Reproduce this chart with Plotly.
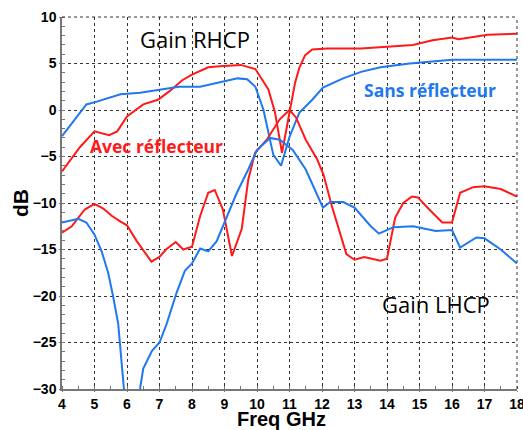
import plotly.graph_objects as go

# RHCP gain, with reflector (red)
rhcp_avec_f = [4.0, 4.55, 5.0, 5.45, 5.7, 6.0, 6.5, 6.95, 7.3, 7.7, 8.0, 8.5, 8.85, 9.5, 9.95,
               10.35, 10.55, 10.77, 11.17, 11.3, 11.48, 11.7, 12.15, 13.2, 14.8, 15.4, 16.0, 16.2,
               17.1, 18.0]
rhcp_avec_db = [-6.6, -4.0, -2.3, -2.7, -2.3, -0.7, 0.6, 1.1, 2.0, 3.2, 3.8, 4.6, 4.7, 4.85, 4.4,
                2.2, -0.2, -4.6, 2.9, 4.5, 5.9, 6.5, 6.6, 6.6, 7.0, 7.5, 7.8, 7.6, 8.1, 8.2]

# RHCP gain, without reflector (blue)
rhcp_sans_f = [4.0, 4.45, 4.75, 5.07, 5.8, 6.4, 7.0, 7.6, 8.25, 8.75, 9.4, 9.7, 9.95, 10.2,
               10.35, 10.5, 10.74, 11.0, 11.3, 11.7, 12.03, 12.65, 13.2, 13.8, 14.7, 16.0, 18.0]
rhcp_sans_db = [-2.8, -0.7, 0.6, 0.9, 1.7, 1.85, 2.2, 2.5, 2.5, 2.9, 3.4, 3.3, 2.5, 0.0,
                -2.4, -4.8, -6.0, -2.9, -0.3, 1.1, 2.4, 3.4, 4.1, 4.6, 5.0, 5.4, 5.4]

# LHCP gain, with reflector (red)
lhcp_avec_f = [4.0, 4.3, 4.7, 5.0, 5.27, 5.54, 5.8, 6.0, 6.3, 6.75, 7.0, 7.2, 7.5, 7.73, 8.0,
               8.25, 8.5, 8.7, 8.95, 9.23, 9.53, 9.73, 9.94, 10.3, 10.7, 11.0, 11.2, 11.5, 11.85,
               12.05, 12.3, 12.5, 12.75, 13.0, 13.3, 13.8, 14.0, 14.25, 14.5, 14.77, 14.95, 15.3,
               15.7, 16.0, 16.25, 16.65, 17.0, 17.5, 18.0]
lhcp_avec_db = [-13.2, -12.5, -10.7, -10.1, -10.6, -11.4, -12.0, -12.4, -14.1, -16.3, -15.8, -15.0,
                -14.2, -15.0, -14.7, -11.4, -8.9, -8.6, -10.7, -15.7, -12.8, -7.5, -4.6, -3.2,
                -1.0, 0.0, -0.8, -3.2, -5.3, -7.0, -10.3, -12.5, -15.5, -16.1, -15.8, -16.2,
                -16.0, -11.6, -10.0, -9.3, -9.4, -10.7, -12.1, -12.1, -8.9, -8.3, -8.2, -8.5, -9.3]

# LHCP gain, without reflector (blue)
lhcp_sans_f = [4.0, 4.5, 4.75, 5.0, 5.22, 5.42, 5.57, 5.73, 5.9, 6.1, 6.4, 6.5, 6.77, 7.0, 7.22,
               7.53, 7.78, 8.0, 8.25, 8.5, 8.76, 9.07, 9.38, 9.73, 10.0, 10.4, 10.7, 11.1, 11.5,
               12.03, 12.25, 12.65, 13.0, 13.5, 13.75, 14.2, 14.8, 15.5, 16.0, 16.25, 16.75,
               17.0, 17.5, 18.0]
lhcp_sans_db = [-12.1, -11.7, -12.1, -13.4, -15.2, -17.5, -20.0, -23.0, -29.8, -34.0, -30.0,
                -27.8, -25.9, -25.0, -23.0, -19.6, -17.3, -16.5, -14.9, -15.2, -14.1, -11.4,
                -8.9, -6.4, -4.3, -3.0, -3.2, -4.3, -6.4, -10.5, -9.9, -9.9, -10.5, -12.5,
                -13.3, -12.6, -12.5, -13.0, -12.9, -14.8, -13.7, -13.8, -15.0, -16.5]

RED = "#ff1a1a"
BLUE = "#1f78f0"
GRID_DASH = "3px,3px"

fig = go.Figure()
for f, g, c in [(rhcp_avec_f, rhcp_avec_db, RED),
                (rhcp_sans_f, rhcp_sans_db, BLUE),
                (lhcp_avec_f, lhcp_avec_db, RED),
                (lhcp_sans_f, lhcp_sans_db, BLUE)]:
    fig.add_trace(go.Scatter(x=f, y=g, mode="lines",
                             line=dict(color=c, width=2), showlegend=False))

axis_family = "Liberation Sans, Arial"
tick_font = dict(family=axis_family, size=14, color="black", weight="bold")

common = dict(
    showgrid=True, gridcolor="#333333", griddash=GRID_DASH, gridwidth=1,
    showline=True, linecolor="#777777", linewidth=1.5,
    ticks="outside", ticklen=1, tickcolor="#777777",
    tickfont=tick_font, zeroline=False, automargin=False,
    ticklabeloverflow="allow",
)

fig.update_layout(
    width=523, height=430,
    margin=dict(l=62, r=6, t=17, b=41),
    paper_bgcolor="white", plot_bgcolor="white",
    xaxis=dict(range=[4, 18], dtick=1, tick0=4,
               minor=dict(dtick=0.5, ticks="inside", ticklen=3, tickcolor="#777777",
                          showgrid=False),
               **common),
    yaxis=dict(range=[-30, 10], dtick=5, tick0=-30,
               minor=dict(dtick=1, ticks="inside", ticklen=3, tickcolor="#777777",
                          showgrid=False),
               **common),
)

# dashed frame on the top and right edges
fig.add_shape(type="line", xref="paper", yref="paper", x0=0, x1=1, y0=1, y1=1,
              line=dict(color="#333333", width=1, dash=GRID_DASH))
fig.add_shape(type="line", xref="paper", yref="paper", x0=1, x1=1, y0=0, y1=1,
              line=dict(color="#333333", width=1, dash=GRID_DASH))

# axis titles (plot area spans 455 x 372 px)
fig.add_annotation(x=(281 - 62) / 455, y=-30 / 372, xref="paper", yref="paper",
                   xanchor="center", yanchor="middle", text="<b>Freq GHz</b>",
                   showarrow=False, font=dict(family=axis_family, size=20, color="black"))
fig.add_annotation(x=-42 / 455, y=(389 - 203) / 372, xref="paper", yref="paper",
                   xanchor="center", yanchor="middle", text="<b>dB</b>", textangle=-90,
                   showarrow=False, font=dict(family=axis_family, size=21, color="black"))

label_font = "Open Sans, Noto Sans, sans-serif"
fig.add_annotation(x=8.1, y=7.65, text="Gain RHCP", showarrow=False,
                   font=dict(family=label_font, size=22, color="black"))
fig.add_annotation(x=15.5, y=-20.9, text="Gain LHCP", showarrow=False,
                   font=dict(family=label_font, size=22, color="black"))
fig.add_annotation(x=6.92, y=-3.9, text="<b>Avec réflecteur</b>", showarrow=False,
                   font=dict(family=label_font, size=17.5, color=RED))
fig.add_annotation(x=15.32, y=2.1, text="<b>Sans réflecteur</b>", showarrow=False,
                   font=dict(family=label_font, size=17.5, color=BLUE))

fig.write_html("out.html")
